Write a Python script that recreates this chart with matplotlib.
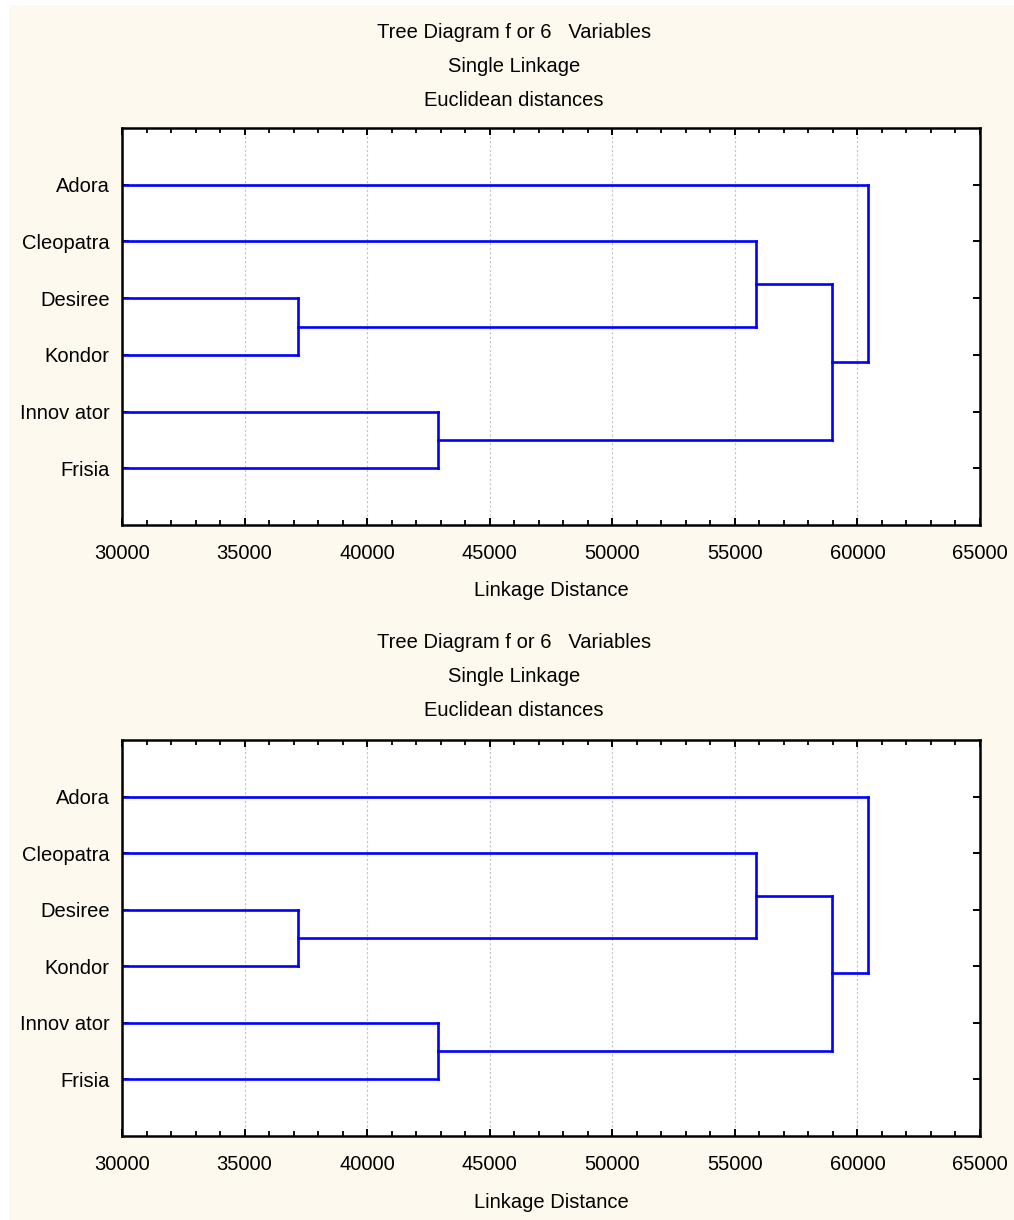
import matplotlib
matplotlib.use('Agg')
import matplotlib.pyplot as plt
from matplotlib.patches import Rectangle
from matplotlib.ticker import MultipleLocator

plt.rcParams['font.family'] = ['Liberation Sans', 'DejaVu Sans']

# leaves, top to bottom
labels = ['Adora', 'Cleopatra', 'Desiree', 'Kondor', 'Innov ator', 'Frisia']
# merges: (cluster a, cluster b, linkage distance); new clusters numbered 6, 7, ...
merge_a = [2, 4, 1, 7, 0]
merge_b = [3, 5, 6, 8, 9]
merge_dist = [37180, 42890, 55870, 58970, 60440]

title_lines = ['Tree Diagram f or 6   Variables', 'Single Linkage', 'Euclidean distances']
xticks = [30000, 35000, 40000, 45000, 50000, 55000, 60000, 65000]

FS = 14.5
BLUE = '#0000ff'

fig = plt.figure(figsize=(10.14, 12.2), dpi=100, facecolor='white')
fig.patches.append(Rectangle((9 / 1014, 0), 1, 1 - 5 / 1220, transform=fig.transFigure,
                             facecolor='#fdf9ee', edgecolor='none', zorder=-10))


def draw_tree(ax):
    ys = [i + 1 for i in range(len(labels))]
    xs = [0] * len(labels)
    for a, b, d in zip(merge_a, merge_b, merge_dist):
        for c in (a, b):
            ax.plot([xs[c], d], [ys[c], ys[c]], color=BLUE, lw=1.9, solid_capstyle='projecting')
        ax.plot([d, d], [ys[a], ys[b]], color=BLUE, lw=1.9, solid_capstyle='projecting')
        ys.append((ys[a] + ys[b]) / 2)
        xs.append(d)
    ax.set_xlim(xticks[0], xticks[-1])
    ax.set_ylim(len(labels) + 1, 0)
    ax.set_xticks(xticks)
    ax.set_xticklabels([str(t) for t in xticks], fontsize=FS)
    ax.xaxis.set_minor_locator(MultipleLocator(1000))
    ax.set_yticks(range(1, len(labels) + 1))
    ax.set_yticklabels(labels, fontsize=FS)
    ax.tick_params(which='major', direction='in', length=5, width=1.4, top=True, right=True,
                   color='black')
    ax.tick_params(axis='x', which='major', pad=14)
    ax.tick_params(axis='y', which='major', pad=9)
    ax.tick_params(which='minor', direction='in', length=3.5, width=1.3, top=True, right=False,
                   left=False, color='black')
    ax.grid(axis='x', which='major', color='#c4c4c4', ls=(0, (2, 2)), lw=0.8)
    ax.set_axisbelow(True)
    for s in ax.spines.values():
        s.set_linewidth(1.8)
    ax.set_xlabel('Linkage Distance', fontsize=FS, labelpad=13)


left, right = 122 / 1014, 980 / 1014
ax1 = fig.add_axes([left, 1 - 525 / 1220, right - left, (525 - 128) / 1220])
ax2 = fig.add_axes([left, 1 - 1136 / 1220, right - left, (1136 - 740) / 1220])
draw_tree(ax1)
draw_tree(ax2)

for top in (33, 643):
    for i, t in enumerate(title_lines):
        fig.text(514 / 1014, 1 - (top + 33.5 * i) / 1220, t, fontsize=FS, ha='center', va='center')

fig.savefig('out.png', dpi=100, facecolor=fig.get_facecolor())
